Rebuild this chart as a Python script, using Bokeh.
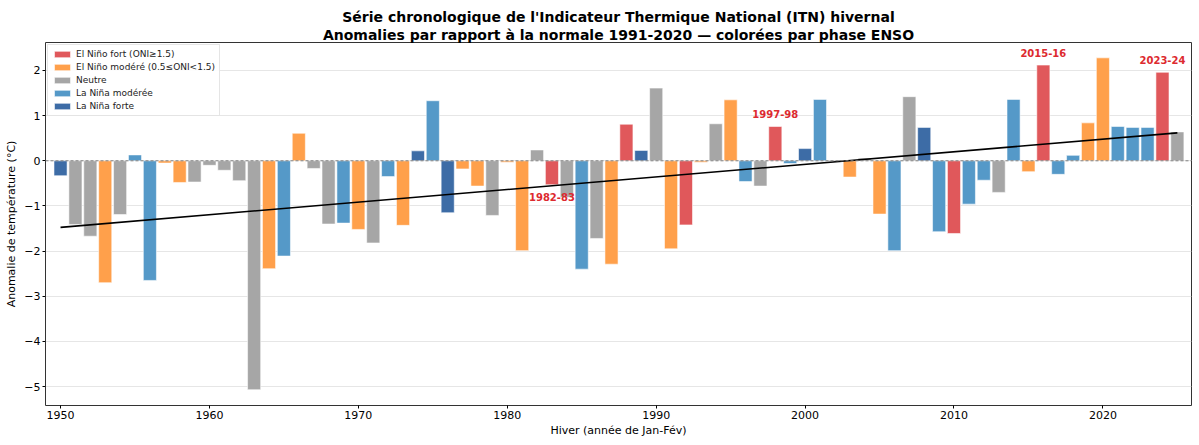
import numpy as np
from bokeh.plotting import figure
from bokeh.models import ColumnDataSource, Span, Legend, LegendItem, Range1d, FixedTicker, Title
from bokeh.core.properties import value
from bokeh.embed import file_html
from bokeh.resources import INLINE

# Winter (Jan-Feb year) temperature anomalies vs 1991-2020 normal
years = list(range(1950, 2026))
anomalies = [
    -0.33, -1.41, -1.67, -2.70, -1.19, 0.13, -2.65, -0.05, -0.48, -0.47,
    -0.10, -0.21, -0.44, -5.07, -2.39, -2.11, 0.61, -0.17, -1.40, -1.38,
    -1.52, -1.82, -0.35, -1.43, 0.22, 1.33, -1.15, -0.18, -0.56, -1.21,
    -0.03, -1.99, 0.24, -0.53, -0.81, -2.40, -1.72, -2.29, 0.81, 0.23,
    1.61, -1.95, -1.42, -0.03, 0.82, 1.35, -0.46, -0.56, 0.76, -0.06,
    0.27, 1.36, 0.02, -0.36, 0.06, -1.18, -1.99, 1.42, 0.74, -1.57,
    -1.61, -0.96, -0.43, -0.70, 1.36, -0.24, 2.12, -0.30, 0.12, 0.84,
    2.28, 0.76, 0.74, 0.74, 1.96, 0.64,
]
# ENSO phase per winter: EF=El Niño fort, EM=El Niño modéré, N=Neutre,
# LM=La Niña modérée, LF=La Niña forte
phases = [
    "LF", "N", "N", "EM", "N", "LM", "LM", "EM", "EM", "N",
    "N", "N", "N", "N", "EM", "LM", "EM", "N", "N", "LM",
    "EM", "N", "LM", "EM", "LF", "LM", "LF", "EM", "EM", "N",
    "EM", "EM", "N", "EF", "N", "LM", "N", "EM", "EF", "LF",
    "N", "EM", "EF", "EM", "N", "EM", "LM", "N", "EF", "LM",
    "LF", "LM", "N", "EM", "N", "EM", "LM", "N", "LF", "LM",
    "EF", "LM", "LM", "N", "LM", "EM", "EF", "LM", "LM", "EM",
    "EM", "LM", "LM", "LM", "EF", "N",
]
phase_keys = ["EF", "EM", "N", "LM", "LF"]
phase_labels = [
    "El Niño fort (ONI≥1.5)",
    "El Niño modéré (0.5≤ONI<1.5)",
    "Neutre",
    "La Niña modérée",
    "La Niña forte",
]
phase_colors = ["#e0585b", "#ffa04b", "#a6a6a6", "#5599c8", "#3d6ca6"]

# Highlighted strong El Niño winters
event_years = [1983, 1998, 2016, 2024]
event_labels = ["1982-83", "1997-98", "2015-16", "2023-24"]

FONT = "DejaVu Sans"

p = figure(
    width=1199, height=445,
    x_range=Range1d(1948.99, 2025.95),
    y_range=Range1d(-5.42, 2.62),
    output_backend="svg", toolbar_location=None,
    min_border_left=45, min_border_right=8, min_border_top=42, min_border_bottom=40,
)
p.title.visible = False
t2 = Title(text="Anomalies par rapport à la normale 1991-2020 — colorées par phase ENSO",
           align="center", text_font=FONT, text_font_size="14px", text_font_style="bold",
           text_color="#000000", standoff=0, offset=0)
t1 = Title(text="Série chronologique de l'Indicateur Thermique National (ITN) hivernal",
           align="center", text_font=FONT, text_font_size="14px", text_font_style="bold",
           text_color="#000000", standoff=0)
p.add_layout(t2, "above")
p.add_layout(t1, "above")

# Horizontal grid only
p.xgrid.grid_line_color = None
p.ygrid.grid_line_color = "#e6e6e6"
p.ygrid.grid_line_width = 1
p.ygrid.ticker = FixedTicker(ticks=list(range(-5, 3)))

p.outline_line_color = "#333333"
p.outline_line_width = 1
p.background_fill_color = "white"
p.border_fill_color = "white"

years_arr = np.array(years, dtype=float)
vals_arr = np.array(anomalies, dtype=float)

# Zero reference
p.add_layout(Span(location=0, dimension="width", line_color="#808080",
                  line_dash="3 2", line_width=1))

legend_items = []
for key, label, color in zip(phase_keys, phase_labels, phase_colors):
    mask = [ph == key for ph in phases]
    src = ColumnDataSource(dict(
        x=[y for y, m in zip(years, mask) if m],
        top=[v for v, m in zip(anomalies, mask) if m],
    ))
    r = p.vbar(x="x", top="top", bottom=0, width=0.88, source=src,
               fill_color=color, line_color="white", line_width=0.8, line_alpha=0.7)
    legend_items.append(LegendItem(label=label, renderers=[r]))

# Linear trend over the whole series
slope, intercept = np.polyfit(years_arr, vals_arr, 1)
p.line(x=[years[0], years[-1]],
       y=[slope * years[0] + intercept, slope * years[-1] + intercept],
       line_color="black", line_width=1.6)

# Labels for strong El Niño winters
lab_x, lab_y = [], []
for yr in event_years:
    v = anomalies[years.index(yr)]
    lab_x.append(yr)
    lab_y.append(v + 0.27 if v >= 0 else v - 0.28)
lsrc = ColumnDataSource(dict(x=lab_x, y=lab_y, t=event_labels))
p.text(x="x", y="y", text="t", source=lsrc, text_align="center",
       text_baseline="middle", text_color="#dd2a2f", text_font=value(FONT),
       text_font_size="10px", text_font_style="bold")

legend = Legend(items=legend_items, location="top_left")
legend.label_text_font = FONT
legend.label_text_font_size = "9px"
legend.label_text_color = "#222222"
legend.glyph_width = 20
legend.glyph_height = 8
legend.label_height = 9
legend.spacing = 3
legend.padding = 4
legend.margin = 2
legend.label_standoff = 4
legend.border_line_color = "#cccccc"
legend.border_line_width = 1
legend.background_fill_alpha = 0.9
p.add_layout(legend)

for ax in (p.xaxis, p.yaxis):
    ax.axis_label_text_font = FONT
    ax.axis_label_text_font_size = "11px"
    ax.axis_label_text_font_style = "normal"
    ax.axis_label_text_color = "#000000"
    ax.major_label_text_font = FONT
    ax.major_label_text_font_size = "11px"
    ax.major_label_text_color = "#000000"
    ax.minor_tick_line_color = None
    ax.major_tick_out = 3
    ax.major_tick_in = 0
    ax.axis_line_color = None

p.xaxis.axis_label = "Hiver (année de Jan-Fév)"
p.yaxis.axis_label = "Anomalie de température (°C)"
p.xaxis.ticker = FixedTicker(ticks=list(range(1950, 2021, 10)))
p.yaxis.ticker = FixedTicker(ticks=list(range(-5, 3)))
p.yaxis.major_label_overrides = {i: (str(i) if i >= 0 else "−" + str(-i)) for i in range(-5, 3)}
p.xaxis.axis_label_standoff = 2
p.yaxis.axis_label_standoff = 3
p.xaxis.major_label_standoff = 2
p.yaxis.major_label_standoff = 2

open("out.html", "w").write(file_html(p, INLINE))
